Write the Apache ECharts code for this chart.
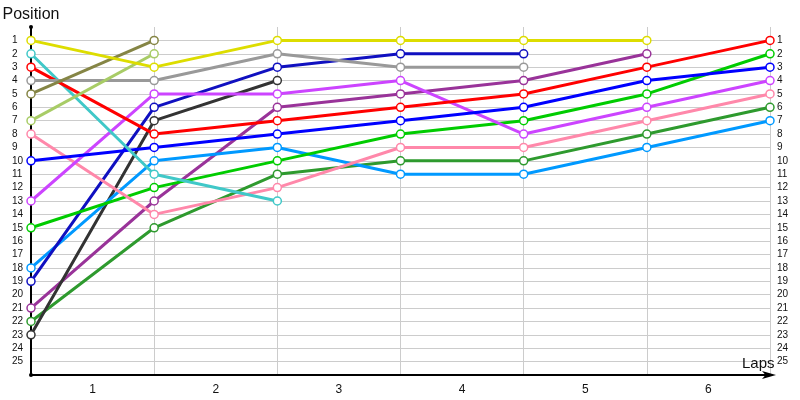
<!DOCTYPE html>
<html>
<head>
<meta charset="utf-8">
<script src="https://cdn.jsdelivr.net/npm/echarts@6/dist/echarts.min.js"></script>
<style>html,body{margin:0;padding:0;background:#fff}#c{width:800px;height:400px}</style>
</head>
<body>
<div id="c"></div>
<script>
var laps = [0, 1, 2, 3, 4, 5, 6];
var lapLabels = ['1', '2', '3', '4', '5', '6'];
var positionTicks = [1,2,3,4,5,6,7,8,9,10,11,12,13,14,15,16,17,18,19,20,21,22,23,24,25];

var yellow     = [1, 3, 1, 1, 1, 1, null];
var olive      = [5, 1, null, null, null, null, null];
var lightOlive = [7, 2, null, null, null, null, null];
var gray       = [4, 4, 2, 3, 3, null, null];
var red        = [3, 8, 7, 6, 5, 3, 1];
var cyan       = [2, 11, 13, null, null, null, null];
var pink       = [8, 14, 12, 9, 9, 7, 5];
var blue       = [10, 9, 8, 7, 6, 4, 3];
var darkBlue   = [19, 6, 3, 2, 2, null, null];
var lightBlue  = [18, 10, 9, 11, 11, 9, 7];
var magenta    = [13, 5, 5, 4, 8, 6, 4];
var purple     = [21, 13, 6, 5, 4, 2, null];
var green      = [15, 12, 10, 8, 7, 5, 2];
var darkGreen  = [22, 15, 11, 10, 10, 8, 6];
var darkGray   = [23, 7, 4, null, null, null, null];

var seriesDefs = [
  [darkGreen, '#2e9a2e'],
  [purple, '#993399'],
  [darkGray, '#333333'],
  [lightBlue, '#0099ff'],
  [darkBlue, '#1010c0'],
  [green, '#00cc00'],
  [pink, '#ff88aa'],
  [magenta, '#cc44ff'],
  [blue, '#0000ff'],
  [cyan, '#40c8c8'],
  [red, '#ff0000'],
  [gray, '#999999'],
  [lightOlive, '#a8cc66'],
  [olive, '#858545'],
  [yellow, '#dddd00']
];

var series = seriesDefs.map(function (d) {
  var pts = [];
  d[0].forEach(function (v, i) { if (v !== null) pts.push([laps[i], v]); });
  return {
    type: 'line',
    data: pts,
    xAxisIndex: 0,
    yAxisIndex: 0,
    symbol: 'circle',
    symbolSize: 8,
    showAllSymbol: true,
    lineStyle: { color: d[1], width: 3 },
    itemStyle: { color: '#ffffff', borderColor: d[1], borderWidth: 1.5 },
    animation: false,
    z: 2
  };
});

var chart = echarts.init(document.getElementById('c'));
chart.setOption({
  animation: false,
  grid: { left: 31, right: 30, top: 27, bottom: 25, containLabel: false, outerBoundsMode: 'none' },
  xAxis: [
    {
      type: 'value', min: 0, max: 6, interval: 1, position: 'bottom',
      axisLine: { show: true, onZero: false, lineStyle: { color: '#000', width: 2 }, symbol: ['none', 'arrow'], symbolSize: [6, 14], symbolOffset: [0, 6] },
      axisTick: { show: false },
      axisLabel: { show: false },
      splitLine: { show: true, showMinLine: false, lineStyle: { color: '#cccccc', width: 1 } },
      name: 'Laps', nameLocation: 'end', nameGap: -28, nameMoveOverlap: false,
      nameTextStyle: { fontFamily: 'Liberation Sans', fontSize: 15, color: '#111', align: 'left', verticalAlign: 'bottom', padding: [0, 0, 4, 0] }
    },
    {
      type: 'value', min: 0, max: 6, interval: 0.5, position: 'bottom',
      axisLine: { show: false, onZero: false }, axisTick: { show: false }, splitLine: { show: false },
      axisLabel: {
        margin: 9, fontFamily: 'Liberation Sans', fontSize: 12, color: '#111',
        formatter: function (v) { var k = Math.round(v * 2); return (k % 2 === 1) ? lapLabels[(k - 1) / 2] : ''; }
      }
    }
  ],
  yAxis: [
    {
      type: 'value', inverse: true, min: 0, max: 26, interval: 1,
      axisLine: { show: true, onZero: false, lineStyle: { color: '#000', width: 2 }, symbol: ['circle', 'circle'], symbolSize: [4, 4] },
      axisTick: { show: false },
      axisLabel: {
        align: 'left', margin: 19, fontFamily: 'Liberation Sans', fontSize: 10, color: '#111',
        formatter: function (v) { return positionTicks.indexOf(v) >= 0 ? String(v) : ''; }
      },
      splitLine: { show: true, showMinLine: false, showMaxLine: false, lineStyle: { color: '#cccccc', width: 1 } },
      name: 'Position', nameLocation: 'start', nameGap: 4, nameMoveOverlap: false,
      nameTextStyle: { fontFamily: 'Liberation Sans', fontSize: 16, color: '#111', align: 'center', verticalAlign: 'bottom' }
    },
    {
      type: 'value', inverse: true, min: 0, max: 26, interval: 1, position: 'right',
      axisLine: { show: false, onZero: false }, axisTick: { show: false }, splitLine: { show: false },
      axisLabel: {
        align: 'left', margin: 7, fontFamily: 'Liberation Sans', fontSize: 10, color: '#111',
        formatter: function (v) { return positionTicks.indexOf(v) >= 0 ? String(v) : ''; }
      }
    }
  ],
  series: series
});
</script>
</body>
</html>
